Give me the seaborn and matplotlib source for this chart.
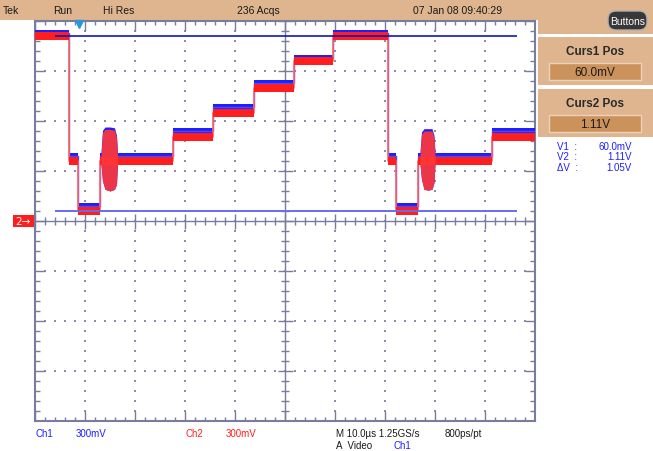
import numpy as np
import pandas as pd
import seaborn as sns
import matplotlib.pyplot as plt
from matplotlib.patches import Rectangle, FancyBboxPatch

# level changes of the video line, in us (10 us/div)
seg_start_us = [0.0, 6.8, 8.6, 13.0, 27.6, 35.6, 43.8, 51.8, 59.6, 70.5, 72.2, 76.6, 91.4]
end_us = 100.0
ch2_level_v = [1.11, 0.36, 0.06, 0.36, 0.505, 0.65, 0.80, 0.96, 1.11, 0.36, 0.06, 0.36, 0.505]
ch1_level_v = [1.13, 0.39, 0.093, 0.39, 0.54, 0.684, 0.828, 0.978, 1.13, 0.39, 0.093, 0.39, 0.54]

# colour burst envelopes
burst1_us = [13.2, 13.5, 14.0, 15.0, 15.9, 16.3, 16.5]
burst1_top_v = [0.40, 0.53, 0.55, 0.55, 0.545, 0.50, 0.40]
burst1_bot_v = [0.34, 0.24, 0.19, 0.18, 0.19, 0.22, 0.34]
burst2_us = [77.0, 77.3, 77.8, 78.6, 79.4, 79.8, 80.0]
burst2_top_v = [0.40, 0.52, 0.54, 0.54, 0.54, 0.50, 0.40]
burst2_bot_v = [0.34, 0.25, 0.19, 0.185, 0.19, 0.23, 0.34]

cursor_v = [0.06, 1.11]
cursor_span_us = [4.0, 96.4]
trigger_us = 8.8

TAN = "#deb58f"
TAN_DARK = "#cc925c"
SLATE = "#7a7c9e"
BLUE = "#1e1eff"
RED = "#ff1e1e"
FONT = ["Liberation Sans", "DejaVu Sans"]

sns.set_style("white")
plt.rcParams["font.family"] = FONT

fig = plt.figure(figsize=(6.53, 4.52), dpi=100)

# ---- background / panels in pixel coordinates
bg = fig.add_axes([0, 0, 1, 1], zorder=0)
bg.set_xlim(0, 653)
bg.set_ylim(452, 0)
bg.axis("off")

bg.add_patch(Rectangle((0, 0), 653, 21, color=TAN, lw=0))
bg.add_patch(Rectangle((538, 0), 115, 35, color=TAN, lw=0))
for top, title, value in [(38, "Curs1 Pos", "60.0mV"), (90, "Curs2 Pos", "1.11V")]:
    bg.add_patch(Rectangle((538, top), 115, 48, color=TAN, lw=0))
    bg.add_patch(Rectangle((549, top + 26), 92, 17, facecolor=TAN_DARK,
                           edgecolor="#ecd2b8", lw=1))
    bg.text(595, top + 14, title, ha="center", va="center", fontsize=8.5,
            fontweight="bold", color="#2a2a2a")
    bg.text(595, top + 35, value, ha="center", va="center", fontsize=8.5,
            color="#1a1a1a")

bg.add_patch(FancyBboxPatch((608, 12), 39, 19,
                            boxstyle="round,pad=0,rounding_size=8",
                            facecolor="#383838", edgecolor="#b0b0b0", lw=1))
bg.text(627.5, 22, "Buttons", ha="center", va="center", fontsize=7.5, color="white")

header = [(3, "Tek"), (53, "Run"), (103, "Hi Res"), (237, "236 Acqs"),
          (413, "07 Jan 08 09:40:29")]
for x, s in header:
    bg.text(x, 11, s, ha="left", va="center", fontsize=7.5, color="#1a1a1a")

readout = [("V1  :", "60.0mV"), ("V2  :", "1.11V"), ("\u0394V  :", "1.05V")]
for i, (lab, val) in enumerate(readout):
    y = 147 + i * 10.5
    bg.text(557, y, lab, ha="left", va="center", fontsize=7, color="#1e1eff")
    bg.text(632, y, val, ha="right", va="center", fontsize=7, color="#1e1eff")

footer = [(35, 434, "Ch1", BLUE), (76, 434, "300mV", BLUE),
          (186, 434, "Ch2", RED), (226, 434, "300mV", RED),
          (336, 434, "M 10.0\u00b5s 1.25GS/s", "#1a1a1a"),
          (445, 434, "800ps/pt", "#1a1a1a"),
          (336, 446, "A  Video", "#1a1a1a"), (393, 446, "Ch1", BLUE)]
for x, y, s, c in footer:
    bg.text(x, y, s, ha="left", va="center", fontsize=7, color=c)

bg.add_patch(Rectangle((13, 216), 22, 12, color=RED, lw=0))
bg.text(23, 222, "2\u2192", ha="center", va="center", fontsize=7.5,
        color="white", family=["DejaVu Sans"])

# ---- graticule
ax = fig.add_axes([35 / 653, 30 / 452, 500 / 653, 400 / 452], zorder=2)
ax.set_facecolor("white")
ax.set_xlim(0, 100)
ax.set_ylim(-1.2, 1.2)
ax.set_xticks([])
ax.set_yticks([])
for sp in ax.spines.values():
    sp.set_color(SLATE)
    sp.set_linewidth(1.5)
    sp.set_visible(True)

xs = np.linspace(0, 100, 51)
ys = np.linspace(-1.2, 1.2, 41)
gx, gy = [], []
for i, x in enumerate(xs):
    if i % 5 == 0 and 0 < i < 50 and i != 25:
        gx += [x] * (len(ys) - 2)
        gy += list(ys[1:-1])
for j, y in enumerate(ys):
    if j % 5 == 0 and 0 < j < 40 and j != 20:
        gx += list(xs[1:-1])
        gy += [y] * (len(xs) - 2)
ax.scatter(gx, gy, s=1.2, marker="s", color="#8c8ca8", lw=0, zorder=1)

ax.axhline(0, color=SLATE, lw=1.0, zorder=1)
ax.axvline(50, color=SLATE, lw=1.0, zorder=1)
for i, x in enumerate(xs):
    major = i % 5 == 0
    ax.vlines(x, -0.045 if major else -0.024, 0.045 if major else 0.024,
              color=SLATE, lw=1.0, zorder=1)
    ax.vlines(x, 1.2 - (0.06 if major else 0.024), 1.2, color=SLATE, lw=1.0, zorder=1)
    ax.vlines(x, -1.2, -1.2 + (0.06 if major else 0.024), color=SLATE, lw=1.0, zorder=1)
for j, y in enumerate(ys):
    major = j % 5 == 0
    w = 1.5 if major else 0.8
    ax.hlines(y, 50 - w, 50 + w, color=SLATE, lw=1.0, zorder=1)
    ax.hlines(y, 0, 2.0 if major else 1.0, color=SLATE, lw=1.0, zorder=1)
    ax.hlines(y, 100 - (2.0 if major else 1.0), 100, color=SLATE, lw=1.0, zorder=1)

# ---- traces
t_steps = np.array(seg_start_us + [end_us])
ch1 = np.array(ch1_level_v + [ch1_level_v[-1]])
ch2 = np.array(ch2_level_v + [ch2_level_v[-1]])
df = pd.DataFrame({"t": np.concatenate([t_steps, t_steps]),
                   "v": np.concatenate([ch1, ch2]),
                   "ch": ["Ch1"] * len(t_steps) + ["Ch2"] * len(t_steps)})

ax.fill_between(t_steps, ch1 - 0.016, ch1 + 0.016, step="post",
                color=BLUE, lw=0, zorder=3)
sns.lineplot(data=df[df.ch == "Ch1"], x="t", y="v", estimator=None, sort=False,
             drawstyle="steps-post", color="#4a4aff", lw=1.0, ax=ax, zorder=3)
for bt, btop, bbot in [(burst1_us, burst1_top_v, burst1_bot_v),
                       (burst2_us, burst2_top_v, burst2_bot_v)]:
    ax.fill_between(bt, np.array(bbot), np.array(btop) + 0.014,
                    color=BLUE, lw=0, zorder=3)

sns.lineplot(data=df[df.ch == "Ch2"], x="t", y="v", estimator=None, sort=False,
             drawstyle="steps-post", color="#ff6464", lw=1.2, ax=ax, zorder=4)
ax.fill_between(t_steps, ch2 - 0.024, ch2 + 0.024, step="post",
                color=RED, lw=0, zorder=4)
for bt, btop, bbot in [(burst1_us, burst1_top_v, burst1_bot_v),
                       (burst2_us, burst2_top_v, burst2_bot_v)]:
    ax.fill_between(bt, bbot, btop, color="#ff3838", alpha=0.92, lw=0, zorder=4)

ax.hlines(cursor_v[0], *cursor_span_us, color="#6a6af2", lw=1.4, zorder=5)
ax.hlines(cursor_v[1], *cursor_span_us, color="#1414c0", lw=1.2, zorder=5)

ax.plot([trigger_us], [1.2 - 0.02], marker="v", ms=6, color="#2a96dc",
        clip_on=False, zorder=6)

fig.savefig("out.png", dpi=100)
